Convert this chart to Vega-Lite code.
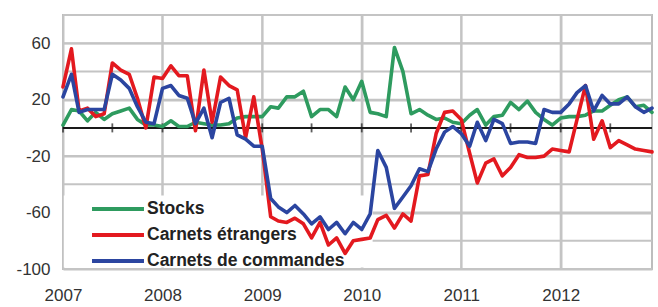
{
  "$schema": "https://vega.github.io/schema/vega-lite/v6.json",
  "width": 589,
  "height": 254,
  "autosize": {"type": "none"},
  "padding": {"left": 63, "top": 15, "right": 6, "bottom": 38},
  "background": "white",
  "config": {
    "view": {"stroke": "#bdbdbd", "strokeWidth": 2},
    "font": "Liberation Sans",
    "locale": {"number": {"decimal": ".", "thousands": ",", "grouping": [3], "currency": ["", ""], "minus": "-"}}
  },
  "datasets": {
    "series": [
      {"d":"2007-01-01","stocks":2,"etrangers":29,"commandes":22},
      {"d":"2007-02-01","stocks":13,"etrangers":56,"commandes":38},
      {"d":"2007-03-01","stocks":12,"etrangers":12,"commandes":11},
      {"d":"2007-04-01","stocks":5,"etrangers":14,"commandes":13},
      {"d":"2007-05-01","stocks":11,"etrangers":8,"commandes":13},
      {"d":"2007-06-01","stocks":6,"etrangers":10,"commandes":13},
      {"d":"2007-07-01","stocks":10,"etrangers":46,"commandes":38},
      {"d":"2007-08-01","stocks":12,"etrangers":41,"commandes":34},
      {"d":"2007-09-01","stocks":14,"etrangers":38,"commandes":28},
      {"d":"2007-10-01","stocks":6,"etrangers":21,"commandes":15},
      {"d":"2007-11-01","stocks":2,"etrangers":0,"commandes":4},
      {"d":"2007-12-01","stocks":2,"etrangers":36,"commandes":3},
      {"d":"2008-01-01","stocks":1,"etrangers":35,"commandes":28},
      {"d":"2008-02-01","stocks":5,"etrangers":44,"commandes":30},
      {"d":"2008-03-01","stocks":1,"etrangers":37,"commandes":23},
      {"d":"2008-04-01","stocks":1,"etrangers":37,"commandes":21},
      {"d":"2008-05-01","stocks":4,"etrangers":-2,"commandes":3},
      {"d":"2008-06-01","stocks":3,"etrangers":41,"commandes":14},
      {"d":"2008-07-01","stocks":2,"etrangers":4,"commandes":-7},
      {"d":"2008-08-01","stocks":2,"etrangers":36,"commandes":18},
      {"d":"2008-09-01","stocks":3,"etrangers":30,"commandes":21},
      {"d":"2008-10-01","stocks":7,"etrangers":27,"commandes":-5},
      {"d":"2008-11-01","stocks":8,"etrangers":-7,"commandes":-8},
      {"d":"2008-12-01","stocks":8,"etrangers":22,"commandes":-13},
      {"d":"2009-01-01","stocks":8,"etrangers":-15,"commandes":-13},
      {"d":"2009-02-01","stocks":15,"etrangers":-63,"commandes":-50},
      {"d":"2009-03-01","stocks":14,"etrangers":-66,"commandes":-56},
      {"d":"2009-04-01","stocks":22,"etrangers":-67,"commandes":-60},
      {"d":"2009-05-01","stocks":22,"etrangers":-64,"commandes":-55},
      {"d":"2009-06-01","stocks":26,"etrangers":-68,"commandes":-61},
      {"d":"2009-07-01","stocks":8,"etrangers":-78,"commandes":-68},
      {"d":"2009-08-01","stocks":13,"etrangers":-67,"commandes":-63},
      {"d":"2009-09-01","stocks":13,"etrangers":-83,"commandes":-72},
      {"d":"2009-10-01","stocks":8,"etrangers":-78,"commandes":-67},
      {"d":"2009-11-01","stocks":29,"etrangers":-89,"commandes":-75},
      {"d":"2009-12-01","stocks":20,"etrangers":-80,"commandes":-67},
      {"d":"2010-01-01","stocks":33,"etrangers":-79,"commandes":-72},
      {"d":"2010-02-01","stocks":11,"etrangers":-78,"commandes":-61},
      {"d":"2010-03-01","stocks":10,"etrangers":-65,"commandes":-16},
      {"d":"2010-04-01","stocks":8,"etrangers":-62,"commandes":-28},
      {"d":"2010-05-01","stocks":57,"etrangers":-71,"commandes":-57},
      {"d":"2010-06-01","stocks":40,"etrangers":-61,"commandes":-49},
      {"d":"2010-07-01","stocks":10,"etrangers":-66,"commandes":-41},
      {"d":"2010-08-01","stocks":13,"etrangers":-34,"commandes":-29},
      {"d":"2010-09-01","stocks":9,"etrangers":-33,"commandes":-31},
      {"d":"2010-10-01","stocks":6,"etrangers":-4,"commandes":-15},
      {"d":"2010-11-01","stocks":7,"etrangers":11,"commandes":-3},
      {"d":"2010-12-01","stocks":4,"etrangers":12,"commandes":1},
      {"d":"2011-01-01","stocks":3,"etrangers":6,"commandes":-4},
      {"d":"2011-02-01","stocks":9,"etrangers":-18,"commandes":-13},
      {"d":"2011-03-01","stocks":13,"etrangers":-39,"commandes":4},
      {"d":"2011-04-01","stocks":2,"etrangers":-25,"commandes":-9},
      {"d":"2011-05-01","stocks":8,"etrangers":-22,"commandes":6},
      {"d":"2011-06-01","stocks":9,"etrangers":-34,"commandes":3},
      {"d":"2011-07-01","stocks":18,"etrangers":-28,"commandes":-11},
      {"d":"2011-08-01","stocks":13,"etrangers":-19,"commandes":-10},
      {"d":"2011-09-01","stocks":19,"etrangers":-21,"commandes":-10},
      {"d":"2011-10-01","stocks":11,"etrangers":-21,"commandes":-11},
      {"d":"2011-11-01","stocks":6,"etrangers":-20,"commandes":13},
      {"d":"2011-12-01","stocks":2,"etrangers":-15,"commandes":11},
      {"d":"2012-01-01","stocks":7,"etrangers":-16,"commandes":11},
      {"d":"2012-02-01","stocks":8,"etrangers":-17,"commandes":17},
      {"d":"2012-03-01","stocks":8,"etrangers":6,"commandes":25},
      {"d":"2012-04-01","stocks":9,"etrangers":30,"commandes":30},
      {"d":"2012-05-01","stocks":12,"etrangers":-8,"commandes":12},
      {"d":"2012-06-01","stocks":12,"etrangers":5,"commandes":23},
      {"d":"2012-07-01","stocks":16,"etrangers":-14,"commandes":17},
      {"d":"2012-08-01","stocks":20,"etrangers":-9,"commandes":17},
      {"d":"2012-09-01","stocks":22,"etrangers":-12,"commandes":22},
      {"d":"2012-10-01","stocks":15,"etrangers":-15,"commandes":15},
      {"d":"2012-11-01","stocks":16,"etrangers":-16,"commandes":11},
      {"d":"2012-12-01","stocks":11,"etrangers":-17,"commandes":14}
    ],
    "ygrid": [{"v":-100},{"v":-80},{"v":-60},{"v":-40},{"v":-20},{"v":0},{"v":20},{"v":40},{"v":60},{"v":80}],
    "xgrid": [{"yr":"2008-01-01"},{"yr":"2009-01-01"},{"yr":"2010-01-01"},{"yr":"2011-01-01"},{"yr":"2012-01-01"}]
  },
  "data": {"name": "series"},
  "layer": [
    {
      "data": {"name": "ygrid"},
      "mark": {"type": "rule", "stroke": "#c4c4c4", "strokeWidth": 2, "opacity": 1},
      "encoding": {"y": {"field": "v", "type": "quantitative"}}
    },
    {
      "data": {"name": "xgrid"},
      "mark": {"type": "rule", "stroke": "#c4c4c4", "strokeWidth": 2, "opacity": 1},
      "encoding": {"x": {"field": "yr", "type": "temporal"}}
    },
    {
      "data": {"values": [{}]},
      "mark": {"type": "rect", "fill": "white"},
      "encoding": {
        "x": {"datum": {"year": 2007, "month": 1, "date": 4, "utc": true}, "type": "temporal"},
        "x2": {"datum": {"year": 2010, "month": 2, "date": 10, "utc": true}},
        "y": {"datum": -99},
        "y2": {"datum": -48}
      }
    },
    {
      "data": {"values": [{}]},
      "mark": {"type": "rule", "color": "#1a1a1a", "strokeWidth": 2},
      "encoding": {"y": {"datum": 0}}
    },
    {
      "transform": [{"filter": "utcmonth(toDate(datum.d)) % 6 == 0"}],
      "mark": {"type": "tick", "orient": "vertical", "color": "#1a1a1a", "size": 9, "thickness": 1.8},
      "encoding": {"x": {"field": "d", "type": "temporal"}, "y": {"datum": 0}}
    },
    {
      "mark": {"type": "line", "strokeWidth": 3.6, "strokeJoin": "round", "strokeCap": "round"},
      "encoding": {
        "x": {
          "field": "d", "type": "temporal",
          "scale": {"type": "utc", "domain": ["2007-01-01", "2012-12-01"]},
          "axis": {
            "title": null, "format": "%Y", "tickCount": {"interval": "year", "step": 1},
            "grid": true, "gridColor": "#c4c4c4", "gridWidth": 2,
            "ticks": false, "domain": false, "labelAlign": "center",
            "labelOverlap": false, "labelFlush": false,
            "labelFontSize": 17, "labelColor": "#333333", "labelPadding": 18, "labelFont": "Liberation Sans"
          }
        },
        "y": {
          "field": "stocks", "type": "quantitative",
          "scale": {"domain": [-100, 80], "nice": false},
          "axis": {
            "title": null, "values": [-100, -80, -60, -40, -20, 0, 20, 40, 60, 80],
            "grid": true, "gridColor": "#c4c4c4", "gridWidth": 2,
            "ticks": false, "domain": false,
            "labelOverlap": false, "labelFlush": false, "labelBound": false,
            "labelFontSize": 17, "labelColor": "#333333", "labelPadding": 13, "labelFont": "Liberation Sans"
          }
        },
        "color": {
          "datum": "Stocks",
          "scale": {"domain": ["Stocks", "Carnets étrangers", "Carnets de commandes"], "range": ["#2e9b5f", "#e3191f", "#2b45a0"]},
          "legend": {
            "title": null, "orient": "none", "legendX": 44, "legendY": 183,
            "padding": 0, "symbolType": "M-3,0H3", "symbolSize": 300, "symbolStrokeWidth": 4,
            "labelFontSize": 17.5, "labelFontWeight": "bold", "labelColor": "#222222", "labelFont": "Liberation Sans",
            "labelOffset": 18, "rowPadding": 6, "labelLimit": 400
          }
        }
      }
    },
    {
      "mark": {"type": "line", "strokeWidth": 3.6, "strokeJoin": "round", "strokeCap": "round"},
      "encoding": {
        "x": {"field": "d", "type": "temporal"},
        "y": {"field": "etrangers", "type": "quantitative"},
        "color": {"datum": "Carnets étrangers"}
      }
    },
    {
      "mark": {"type": "line", "strokeWidth": 3.6, "strokeJoin": "round", "strokeCap": "round"},
      "encoding": {
        "x": {"field": "d", "type": "temporal"},
        "y": {"field": "commandes", "type": "quantitative"},
        "color": {"datum": "Carnets de commandes"}
      }
    }
  ]
}
